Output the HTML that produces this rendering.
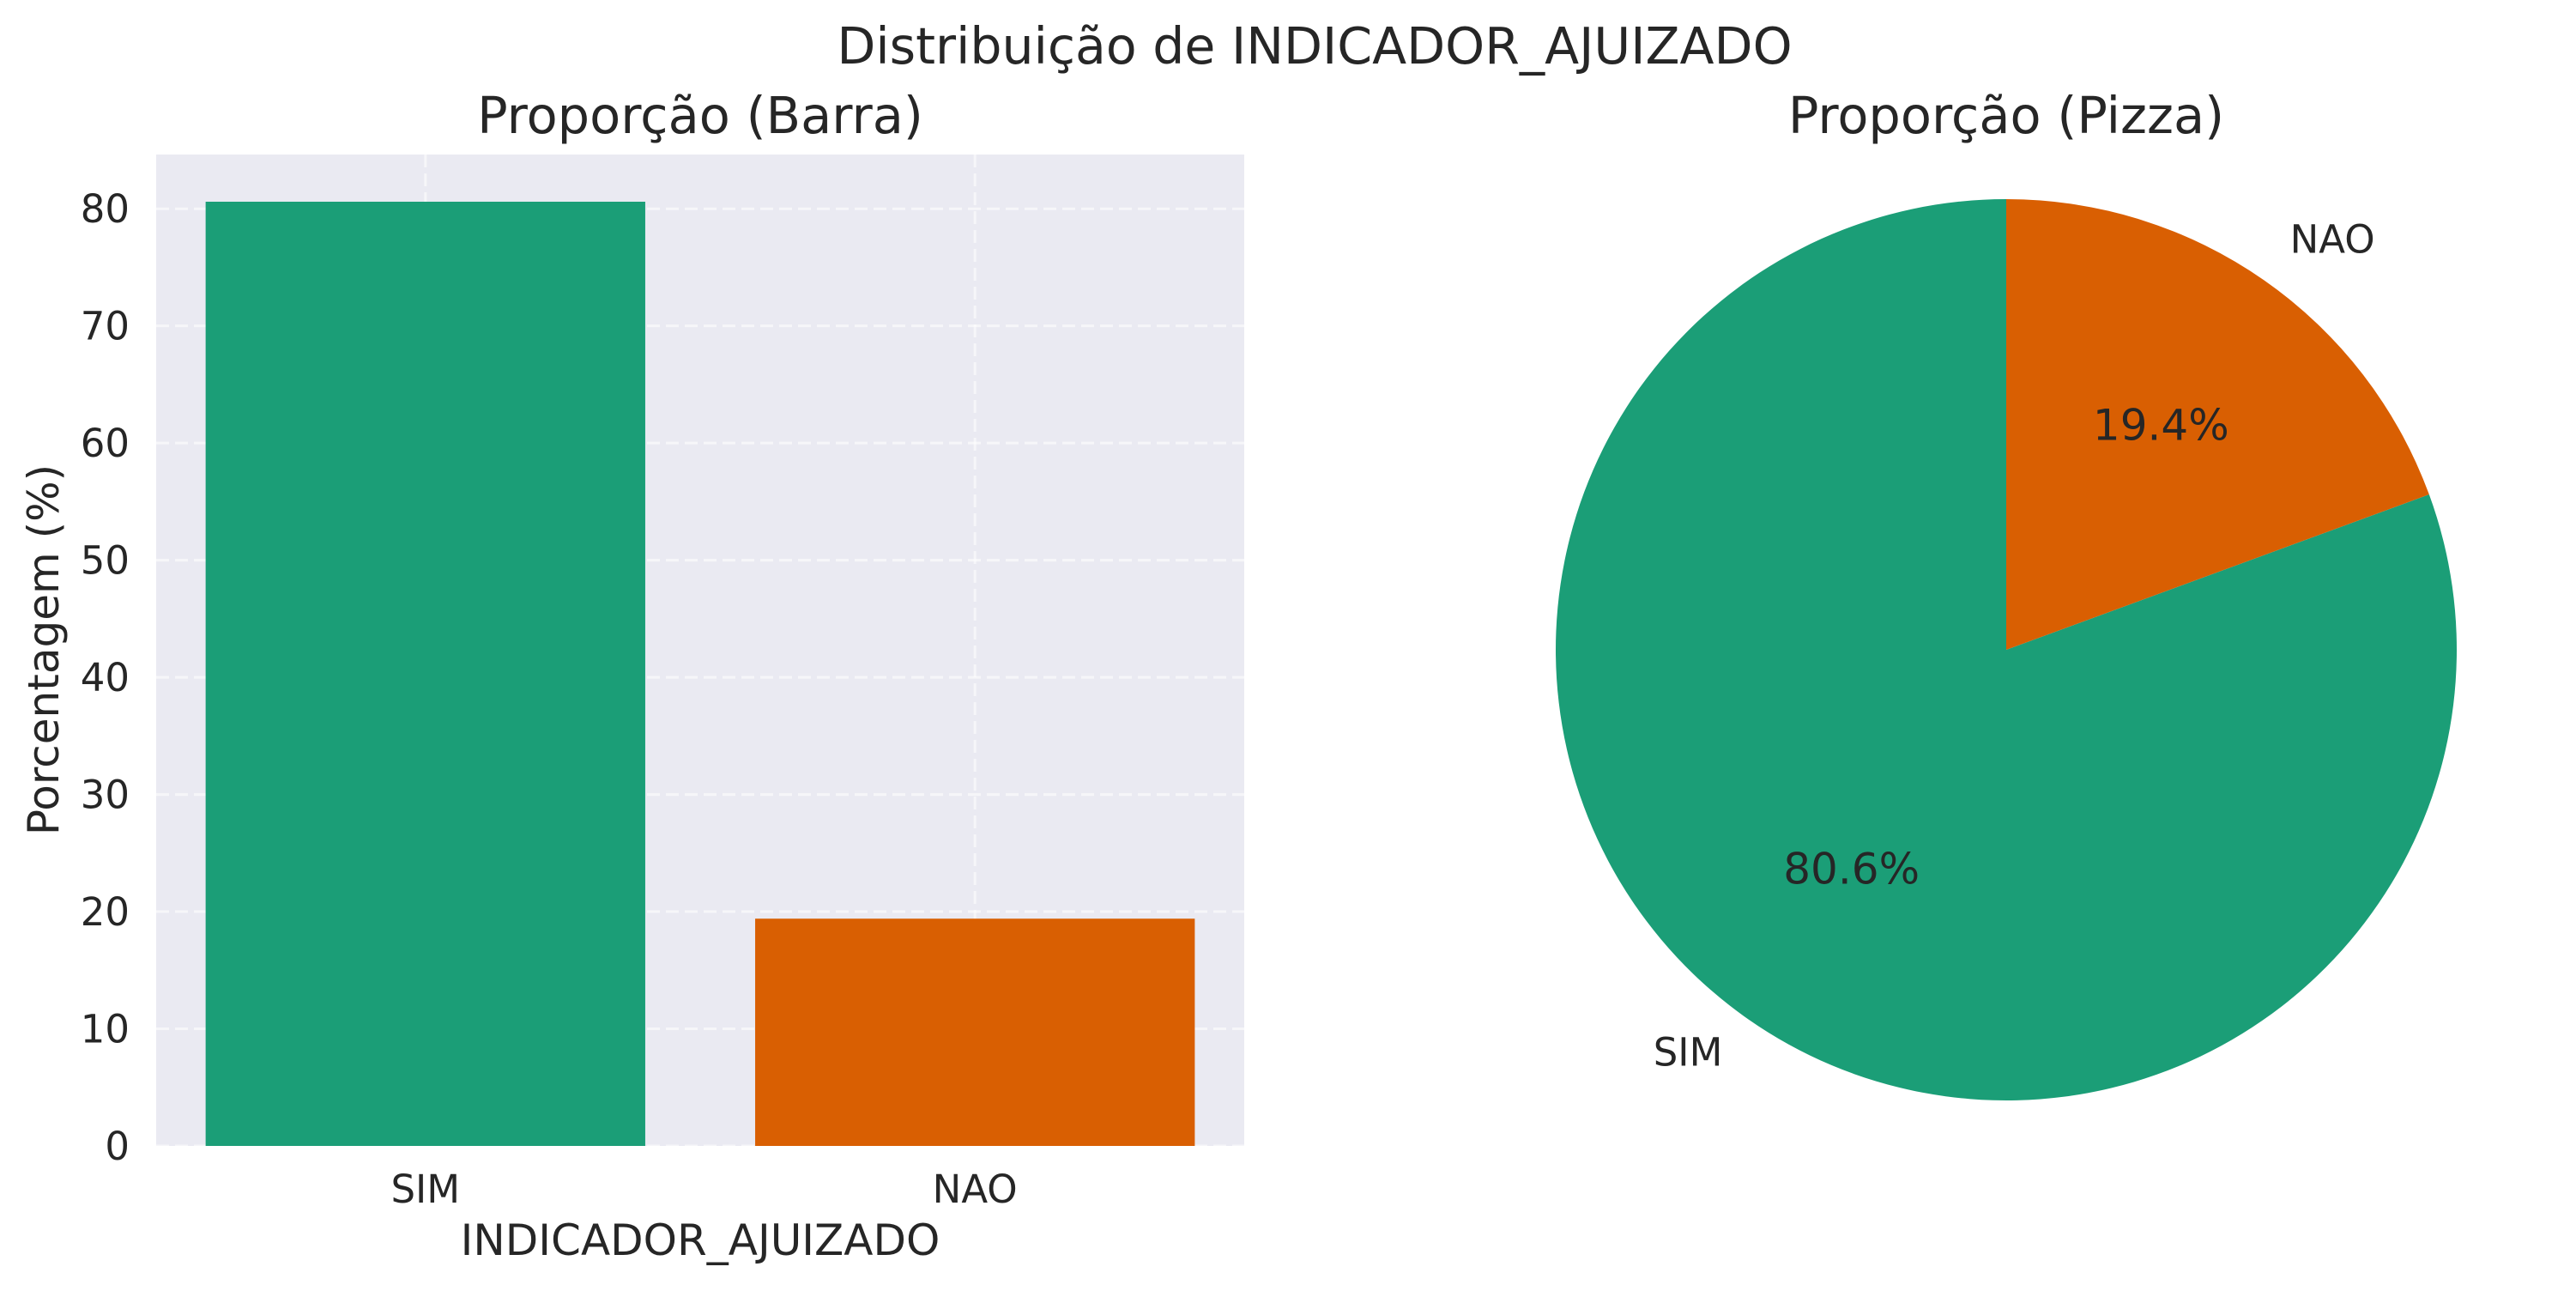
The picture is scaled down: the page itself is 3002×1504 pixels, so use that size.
<!DOCTYPE html>
<html><head><meta charset="utf-8"><style>
html,body{margin:0;padding:0;background:#fff;}
svg{display:block;font-family:"DejaVu Sans","Liberation Sans",sans-serif;}
</style></head><body>
<svg id="fig" width="3002" height="1504" viewBox="0 0 3002 1504" xmlns="http://www.w3.org/2000/svg">
<text x="1532" y="74" font-size="58.5" fill="#262626" text-anchor="middle">Distribuição de INDICADOR_AJUIZADO</text>
<text x="816" y="155" font-size="59" fill="#262626" text-anchor="middle">Proporção (Barra)</text>
<text x="2338" y="155" font-size="59" fill="#262626" text-anchor="middle">Proporção (Pizza)</text>
<g id="bar"></g>
<g id="pie"></g>
</svg>
<script>
const categories = ["SIM", "NAO"];
const percentages = [80.6, 19.4];
const colors = ["#1b9e77", "#d95f02"];
const yTicks = [0, 10, 20, 30, 40, 50, 60, 70, 80];
const pctLabels = ["80.6%", "19.4%"];

const NS = "http://www.w3.org/2000/svg";
function mk(tag, attrs, parent) {
  const e = document.createElementNS(NS, tag);
  for (const k in attrs) e.setAttribute(k, attrs[k]);
  parent.appendChild(e);
  return e;
}
const AX = {l:182, r:1450, t:180, b:1335};
const yMax = Math.max(...percentages) * 1.05;
const xMin = -0.49, xMax = categories.length - 1 + 0.49;
function yS(v){ return AX.b - v / yMax * (AX.b - AX.t); }
function xS(v){ return AX.l + (v - xMin) / (xMax - xMin) * (AX.r - AX.l); }
const bar = document.getElementById("bar");
const bg = mk("rect", {x:AX.l, y:AX.t, width:AX.r-AX.l, height:AX.b-AX.t, fill:"#eaeaf2"}, bar);


yTicks.forEach(t => {
  const y = yS(t);
  const g = mk("line", {x1:AX.l, x2:AX.r, y1:y, y2:y, stroke:"#ffffff", "stroke-width":3, "stroke-dasharray":"15 7", opacity:0.6}, bar);
  
  
  const lb = mk("text", {x:151, y:y+16, "font-size":45, fill:"#262626", "text-anchor":"end"}, bar);
  lb.textContent = t;
  
  
});
categories.forEach((c, i) => {
  const x = xS(i);
  const g = mk("line", {x1:x, x2:x, y1:AX.t, y2:AX.b, stroke:"#ffffff", "stroke-width":3, "stroke-dasharray":"15 7", opacity:0.6}, bar);
  
  
});
categories.forEach((c, i) => {
  const x0 = xS(i - 0.4), x1 = xS(i + 0.4);
  const r = mk("rect", {x:x0, y:yS(percentages[i]), width:x1-x0, height:yS(0)-yS(percentages[i]), fill:colors[i]}, bar);
  
  
  const lb = mk("text", {x:xS(i), y:1401, "font-size":45, fill:"#262626", "text-anchor":"middle"}, bar);
  lb.textContent = c;
  
  
});
const xl = mk("text", {x:(AX.l+AX.r)/2, y:1462, "font-size":50, fill:"#262626", "text-anchor":"middle"}, bar);
xl.textContent = "INDICADOR_AJUIZADO";


const yl = mk("text", {x:0, y:0, "font-size":50, fill:"#262626", "text-anchor":"middle", transform:"translate(68,757) rotate(-90)"}, bar);
yl.textContent = "Porcentagem (%)";



const pie = document.getElementById("pie");
const cx = 2338, cy = 757, R = 525;
const total = percentages.reduce((a,b)=>a+b,0);
let ang = 90;
percentages.forEach((v, i) => {
  const sweep = v / total * 360;
  const a0 = ang * Math.PI/180, a1 = (ang + sweep) * Math.PI/180;
  const p0 = [cx + R*Math.cos(a0), cy - R*Math.sin(a0)];
  const p1 = [cx + R*Math.cos(a1), cy - R*Math.sin(a1)];
  const large = sweep > 180 ? 1 : 0;
  const s = mk("path", {d:`M${cx},${cy} L${p0[0]},${p0[1]} A${R},${R} 0 ${large} 0 ${p1[0]},${p1[1]} Z`, fill:colors[i]}, pie);
  
  
  const mid = (ang + sweep/2) * Math.PI/180;
  const lx = cx + 1.1*R*Math.cos(mid), ly = cy - 1.1*R*Math.sin(mid);
  const lb = mk("text", {x:lx, y:ly+11, "font-size":45, fill:"#262626", "text-anchor": Math.cos(mid) >= 0 ? "start" : "end"}, pie);
  lb.textContent = categories[i];
  
  
  const px = cx + 0.6*R*Math.cos(mid), py = cy - 0.6*R*Math.sin(mid);
  const pl = mk("text", {x:px, y:py+14, "font-size":50, fill:"#262626", "text-anchor":"middle"}, pie);
  pl.textContent = pctLabels[i];
  
  
  ang += sweep;
});
</script>
</body></html>
